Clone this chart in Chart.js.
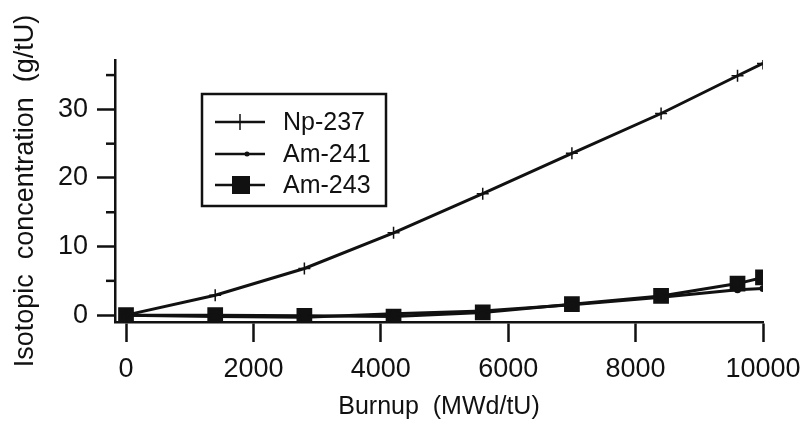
<!DOCTYPE html>
<html>
<head>
<meta charset="utf-8">
<script src="https://cdn.jsdelivr.net/npm/chart.js@4.4.0/dist/chart.umd.min.js"></script>
<style>
  html, body { margin: 0; padding: 0; background: #fff; }
  #wrap { width: 805px; height: 422px; }
</style>
</head>
<body>
<div id="wrap"><canvas id="chart"></canvas></div>
<script>
// burnup steps (MWd/tU)
const burnup = [0, 1400, 2800, 4200, 5600, 7000, 8400, 9600, 10000]
const np237 = [0, 2.9, 6.8, 12.0, 17.7, 23.6, 29.4, 34.9, 36.7]
const am241 = [0, -0.2, -0.3, 0.2, 0.6, 1.5, 2.6, 3.7, 3.9]
const am243 = [0, 0, -0.1, -0.2, 0.4, 1.6, 2.8, 4.6, 5.5]

const xTicks = [0, 2000, 4000, 6000, 8000, 10000]
const yTicks = [0, 10, 20, 30]
const yMinor = [5, 15, 25, 35]

const ink = '#111'
const font = 'Liberation Sans, Arial, sans-serif'

function pts(ys) {
    return burnup.map((x, i) => ({ x: x, y: ys[i] }))
}

// short unlabelled ticks on the y axis
const minorTicks = {
    id: 'minorTicks',
    afterDraw(chart) {
        const ctx = chart.ctx
        const y = chart.scales.y
        ctx.save()
        ctx.strokeStyle = ink
        ctx.lineWidth = 2.5
        yMinor.forEach(v => {
            const p = y.getPixelForValue(v)
            ctx.beginPath()
            ctx.moveTo(y.right - 9, p)
            ctx.lineTo(y.right, p)
            ctx.stroke()
        })
        ctx.restore()
    }
}

// legend box drawn inside the plot
const boxLegend = {
    id: 'boxLegend',
    afterDraw(chart) {
        const ctx = chart.ctx
        const x0 = 202, y0 = 94, w = 184, h = 112
        ctx.save()
        ctx.strokeStyle = ink
        ctx.lineWidth = 2.5
        ctx.fillStyle = '#fff'
        ctx.fillRect(x0, y0, w, h)
        ctx.strokeRect(x0, y0, w, h)
        const rows = ['Np-237', 'Am-241', 'Am-243']
        const rowY = [122, 154, 185]
        ctx.font = '25px ' + font
        ctx.textBaseline = 'middle'
        rows.forEach((label, i) => {
            const y = rowY[i]
            ctx.beginPath()
            ctx.lineWidth = 2.5
            ctx.moveTo(215, y)
            ctx.lineTo(265, y)
            ctx.stroke()
            ctx.fillStyle = ink
            if (i === 0) {
                ctx.beginPath()
                ctx.lineWidth = 1.5
                ctx.moveTo(240, y - 8)
                ctx.lineTo(240, y + 8)
                ctx.stroke()
            } else if (i === 1) {
                ctx.beginPath()
                ctx.arc(247, y, 2.5, 0, Math.PI * 2)
                ctx.fill()
            } else {
                ctx.fillRect(232, y - 9, 18, 18)
            }
            ctx.fillText(label, 283, y + 1)
        })
        ctx.restore()
    }
}

new Chart(document.getElementById('chart'), {
    type: 'scatter',
    data: {
        datasets: [
            {
                label: 'Np-237',
                data: pts(np237),
                showLine: true,
                borderColor: ink,
                backgroundColor: ink,
                borderWidth: 3,
                pointStyle: 'cross',
                pointRadius: 6,
                pointBorderWidth: 1.5
            },
            {
                label: 'Am-241',
                data: pts(am241),
                showLine: true,
                borderColor: ink,
                backgroundColor: ink,
                borderWidth: 3,
                pointStyle: 'circle',
                pointRadius: 2
            },
            {
                label: 'Am-243',
                data: pts(am243),
                showLine: true,
                borderColor: ink,
                backgroundColor: ink,
                borderWidth: 3,
                pointStyle: 'rect',
                pointRadius: 9
            }
        ]
    },
    options: {
        responsive: true,
        maintainAspectRatio: false,
        animation: false,
        layout: { padding: { left: 9, right: 42, top: 60, bottom: 0 } },
        plugins: {
            legend: { display: false },
            tooltip: { enabled: false }
        },
        scales: {
            x: {
                type: 'linear',
                min: -173,
                max: 10000,
                afterBuildTicks: s => { s.ticks = xTicks.map(v => ({ value: v })) },
                afterFit: s => { s.height = 100; s.paddingLeft = 0; s.paddingRight = 0 },
                grid: { drawOnChartArea: false, drawTicks: true, tickLength: 20, color: ink, tickWidth: 2.5 },
                border: { display: true, color: ink, width: 2.5 },
                ticks: { color: ink, font: { family: font, size: 27 }, padding: 11, maxRotation: 0, callback: v => String(v) },
                title: { display: true, text: 'Burnup  (MWd/tU)', color: ink, font: { family: font, size: 25 }, padding: { top: 0, bottom: 0 } }
            },
            y: {
                type: 'linear',
                min: -1,
                max: 37.2,
                afterBuildTicks: s => { s.ticks = yTicks.map(v => ({ value: v })) },
                afterFit: s => { s.width = 106; s.paddingTop = 0; s.paddingBottom = 0 },
                grid: { drawOnChartArea: false, drawTicks: true, tickLength: 18, color: ink, tickWidth: 2.5 },
                border: { display: true, color: ink, width: 2.5 },
                ticks: { color: ink, font: { family: font, size: 27 }, padding: 9, callback: v => String(v) },
                title: { display: true, text: 'Isotopic  concentration  (g/tU)', color: ink, font: { family: font, size: 27 }, padding: { top: 0, bottom: 0 } }
            }
        }
    },
    plugins: [minorTicks, boxLegend]
})
</script>
</body>
</html>
